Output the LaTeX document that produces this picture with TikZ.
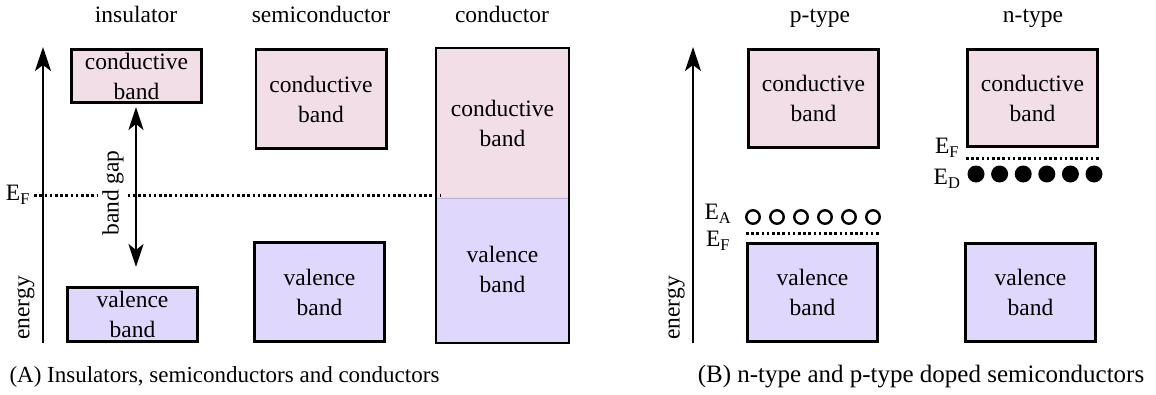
\documentclass[tikz,border=0pt]{standalone}
\usepackage{fontspec}
\setmainfont{Liberation Serif}
\usetikzlibrary{arrows.meta}
\definecolor{cbpink}{RGB}{241,222,230}
\definecolor{vbpurple}{RGB}{224,216,252}
\definecolor{splitline}{RGB}{190,180,215}
\begin{document}
\begin{tikzpicture}[x=1pt,y=-1pt,
  every node/.style={font=\fontsize{23.5}{30}\selectfont},
  bandbox/.style={draw=black, line width=2.6pt, minimum width=130.4pt, inner sep=0pt, align=center},
  cbbox/.style={bandbox, fill=cbpink},
  vbbox/.style={bandbox, fill=vbpurple},
  arr/.style={line width=2.6pt, -{Stealth[length=24pt,width=16pt,inset=6pt]}},
  dblarr/.style={line width=2.6pt, {Stealth[length=23pt,width=15pt,inset=6pt]}-{Stealth[length=23pt,width=15pt,inset=6pt]}},
  fermi/.style={line width=3pt, dash pattern=on 2.6pt off 2.6pt},
  hole/.style={circle, draw=black, line width=2.4pt, minimum size=13.5pt, inner sep=0pt},
  donor/.style={circle, fill=black, minimum size=17pt, inner sep=0pt},
  toplabel/.style={anchor=base},
  elabel/.style={inner sep=0pt},
  caption/.style={anchor=base}
]
\useasboundingbox (0,0) rectangle (1156,394);

% ---------- panel A ----------
\node[toplabel] (tins) at (136,22.5) {insulator};
\node[toplabel] (tsemi) at (321,22.5) {semiconductor};
\node[toplabel] (tcond) at (502,22.5) {conductor};

\node[cbbox, minimum height=53.4pt] (inscb) at (136.5,76) {conductive\\band};
\node[vbbox, minimum height=54.4pt] (insvb) at (132.5,314.5) {valence\\band};
\node[cbbox, minimum height=99.4pt] (semicb) at (321,99) {conductive\\band};
\node[vbbox, minimum height=99.4pt] (semivb) at (319.5,292) {valence\\band};

\node[cbbox, draw=none, minimum height=147.7pt] (condcb) at (502.5,123.15) {conductive\\band};
\node[vbbox, draw=none, minimum height=144.7pt] (condvb) at (502.5,269.35) {valence\\band};
\draw[line width=0.8pt, splitline] (condcb.south west) -- (condcb.south east);
\draw[line width=2.6pt] (condcb.north west) rectangle (condvb.south east);

\coordinate (eA0) at (43,343);
\coordinate (eA1) at (43,47);
\draw[arr] (eA0) -- (eA1);
\node[rotate=90] (energyA) at (26,308) {energy};

\node[elabel] (EFa) at (18,195) {E\textsubscript{F}};
\draw[fermi] ([xshift=4pt]EFa.east) -- ([xshift=4pt]EFa.east -| condvb.west);

\coordinate (gapT) at (136,107);
\coordinate (gapB) at (136,267);
\draw[dblarr] (gapT) -- (gapB);
\node[rotate=90, fill=white, inner sep=4pt] (gaplabel) at (113,193) {band gap};

\node[caption, font=\fontsize{23}{28}\selectfont] (capA) at (224.5,382) {(A) Insulators, semiconductors and conductors};

% ---------- panel B ----------
\node[toplabel] (tp) at (820,22.5) {p-type};
\node[toplabel] (tn) at (1033,22.5) {n-type};

\node[cbbox, minimum height=98.4pt] (pcb) at (813.5,98.5) {conductive\\band};
\node[vbbox, minimum height=98.4pt] (pvb) at (812.5,292.5) {valence\\band};
\node[cbbox, minimum height=97.4pt] (ncb) at (1032.5,98) {conductive\\band};
\node[vbbox, minimum height=98.4pt] (nvb) at (1030.5,292.5) {valence\\band};

\coordinate (eB0) at (693,343);
\coordinate (eB1) at (693,47);
\draw[arr] (eB0) -- (eB1);
\node[rotate=90] (energyB) at (676,308) {energy};

% p-type acceptor level
\node[elabel] (EA) at (718,214) {E\textsubscript{A}};
\foreach \i in {0,...,5}{
  \node[hole] (h\i) at (753+24*\i,217) {};
}
\node[elabel] (EFp) at (718,241) {E\textsubscript{F}};
\draw[fermi] ([yshift=9pt]pvb.north west) -- ([yshift=9pt]pvb.north east);

% n-type donor level
\node[elabel] (EFn) at (947,148) {E\textsubscript{F}};
\draw[fermi] ([yshift=-10pt]ncb.south west) -- ([yshift=-10pt]ncb.south east);
\node[elabel] (ED) at (947,179) {E\textsubscript{D}};
\foreach \i in {0,...,5}{
  \node[donor] (d\i) at (976+23.6*\i,174) {};
}

\node[caption, font=\fontsize{25}{30}\selectfont] (capB) at (921,382) {(B) n-type and p-type doped semiconductors};
\end{tikzpicture}
\end{document}
